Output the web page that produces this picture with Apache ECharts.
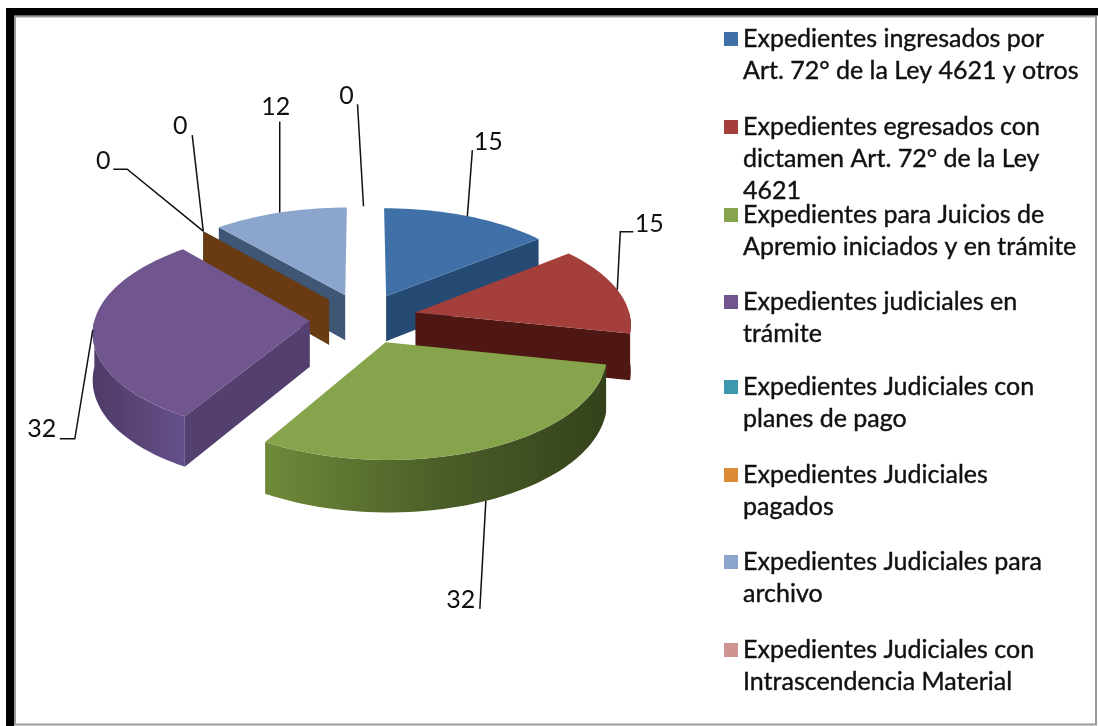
<!DOCTYPE html>
<html>
<head>
<meta charset="utf-8">
<style>
  html, body { margin: 0; padding: 0; background: #fff; }
  #chart { width: 1098px; height: 726px; }
</style>
<script src="https://cdn.jsdelivr.net/npm/echarts@6/dist/echarts.min.js"></script>
</head>
<body>
<div id="chart"></div>
<script>
// datos
const categories = [
  'Expedientes ingresados por\nArt. 72° de la Ley 4621 y otros',
  'Expedientes egresados con\ndictamen Art. 72° de la Ley\n4621',
  'Expedientes para Juicios de\nApremio iniciados y en trámite',
  'Expedientes judiciales en\ntrámite',
  'Expedientes Judiciales con\nplanes de pago',
  'Expedientes Judiciales\npagados',
  'Expedientes Judiciales para\narchivo',
  'Expedientes Judiciales con\nIntrascendencia Material'
]
const values = [15, 15, 32, 32, 0, 0, 12, 0]

// estilos por porcion
const topColors = ['#3f70a8', '#a43f3c', '#86a44b', '#70558f', '#3b98ae', '#dd8a35', '#8ba5cd', '#cf9391']
const wallColors = ['#254a73', '#4e1713', '#4a5c27', '#54406f', '#1f5a68', '#6a3b12', '#3f5674', '#7a4a48']
const outerStops = [
  ['#254a73', '#254a73', '#254a73'],
  ['#4e1713', '#4e1713', '#4e1713'],
  ['#6f8a3a', '#4c5f28', '#34421b'],
  ['#4e3b68', '#5a4577', '#63508a'],
  ['#1f5a68', '#1f5a68', '#1f5a68'],
  ['#6a3b12', '#6a3b12', '#6a3b12'],
  ['#3f5674', '#3f5674', '#3f5674'],
  ['#7a4a48', '#7a4a48', '#7a4a48']
]
// orden de pintado, del fondo al frente
const paintOrder = [7, 6, 4, 5, 0, 3, 1, 2]

// lineas guia: quiebres y rotulo, relativos al borde de cada porcion
const leaderBends = [
  [[5, -66]],
  [[3, -58], [16, -58]],
  [[-6, 108]],
  [[-18, 109], [-33, 109]],
  [[-76, -62], [-90, -62]],
  [[-11, -96]],
  [[0, -91]],
  [[-6, -102]]
]
const labelOffsets = [[21, -74], [32, -66], [-25, 99], [-51, 99], [-100, -70], [-23, -105], [-4, -106], [-17, -110]]
const legendCenters = [39, 127, 215, 302, 387, 475, 562, 650]

const CX = 363.5
const CY = 318.5
const RX = 215
const RY = 101
const PERSP = 0.1
const DEPTH = 46
const EXPLODE = 0.25
const LEGEND_LH = 32
const FONT = 'Lato, "Open Sans", sans-serif'

const total = values.reduce((a, b) => a + b, 0)
const rad = d => d * Math.PI / 180

let acc = 0
const slices = values.map(v => {
  const start = acc / total * 360
  acc += v
  const end = acc / total * 360
  return { start, end, mid: (start + end) / 2 }
})

// x derecha, y hacia el observador, z hacia abajo
const project = (x, y, z) => {
  const s = 1 / (1 - PERSP * y)
  return [CX + RX * x * s, CY + RY * y * s + DEPTH * z * s]
}
const apexOf = sl => [EXPLODE * Math.sin(rad(sl.mid)), -EXPLODE * Math.cos(rad(sl.mid))]
const rimPoint = (sl, deg, z) => {
  const a = apexOf(sl)
  return project(a[0] + Math.sin(rad(deg)), a[1] - Math.cos(rad(deg)), z)
}
const arc = (sl, from, to, z) => {
  const pts = []
  const n = Math.max(1, Math.ceil((to - from) / 2))
  for (let i = 0; i <= n; i++) pts.push(rimPoint(sl, from + (to - from) * i / n, z))
  return pts
}
const apexPoint = (sl, z) => {
  const a = apexOf(sl)
  return project(a[0], a[1], z)
}

const renderSlice = idx => (params, api) => {
  const sl = slices[idx]
  const children = []
  const radialWall = deg => children.push({
    type: 'polygon',
    shape: { points: [apexPoint(sl, 0), rimPoint(sl, deg, 0), rimPoint(sl, deg, 1), apexPoint(sl, 1)] },
    style: { fill: wallColors[idx] }
  })
  if (Math.sin(rad(sl.start)) < -1e-6) radialWall(sl.start)
  if (Math.sin(rad(sl.end)) > 1e-6) radialWall(sl.end)

  // pared exterior, solo la parte que mira al frente
  const from = Math.max(sl.start, 90)
  const to = Math.min(sl.end, 270)
  if (to > from) {
    children.push({
      type: 'polygon',
      shape: { points: arc(sl, from, to, 0).concat(arc(sl, from, to, 1).reverse()) },
      style: {
        fill: new echarts.graphic.LinearGradient(0, 0, 1, 0, [
          { offset: 0, color: outerStops[idx][0] },
          { offset: 0.5, color: outerStops[idx][1] },
          { offset: 1, color: outerStops[idx][2] }
        ])
      }
    })
  }
  if (sl.end > sl.start) {
    children.push({
      type: 'polygon',
      shape: { points: [apexPoint(sl, 0)].concat(arc(sl, sl.start, sl.end, 0)) },
      style: { fill: topColors[idx] }
    })
  }
  return { type: 'group', children }
}

const renderLeader = (params, api) => {
  const idx = params.dataIndex
  const sl = slices[idx]
  // el rotulo de la porcion del frente sale de la base de la pared
  const anchor = rimPoint(sl, sl.mid, Math.cos(rad(sl.mid)) < -0.5 ? 1 : 0)
  const pts = [anchor].concat(leaderBends[idx].map(b => [anchor[0] + b[0], anchor[1] + b[1]]))
  return {
    type: 'group',
    children: [
      { type: 'polyline', shape: { points: pts }, style: { stroke: '#111', lineWidth: 1.5, fill: 'none' } },
      {
        type: 'text',
        style: {
          text: String(api.value(0)),
          x: anchor[0] + labelOffsets[idx][0],
          y: anchor[1] + labelOffsets[idx][1],
          align: 'center',
          verticalAlign: 'middle',
          fontFamily: FONT,
          fontSize: 25,
          fill: '#111'
        }
      }
    ]
  }
}

const sliceSeries = paintOrder.map((idx, order) => ({
  name: categories[idx],
  type: 'custom',
  coordinateSystem: 'none',
  silent: true,
  animation: false,
  z: 2 + order,
  itemStyle: { color: topColors[idx] },
  data: [values[idx]],
  renderItem: renderSlice(idx)
}))

// la leyenda centra el icono en el bloque de texto: con lineas vacias
// delante, el icono queda a la altura de la primera linea
const legends = categories.map((name, i) => {
  const lines = name.split('\n').length
  return {
    data: [name],
    left: 724,
    top: legendCenters[i] - (2 * lines - 1) * LEGEND_LH / 2,
    orient: 'vertical',
    selectedMode: false,
    icon: 'rect',
    itemWidth: 14,
    itemHeight: 14,
    itemGap: 0,
    padding: 0,
    formatter: n => '\n'.repeat(lines - 1) + n,
    textStyle: {
      fontFamily: FONT,
      fontSize: 25,
      color: '#111',
      textBorderColor: '#111',
      textBorderWidth: 0.4,
      lineHeight: LEGEND_LH
    }
  }
})

const chart = echarts.init(document.getElementById('chart'))
chart.setOption({
  backgroundColor: '#fff',
  animation: false,
  legend: legends,
  // marco de la captura original
  graphic: [
    { type: 'rect', shape: { x: 15, y: 16.5, width: 1081, height: 708 }, style: { fill: '#fff', stroke: '#9a9a9a', lineWidth: 2 }, z: 0 },
    { type: 'rect', shape: { x: 6, y: 8, width: 1092, height: 7.5 }, style: { fill: '#000' }, z: 1 },
    { type: 'rect', shape: { x: 6, y: 8, width: 8, height: 718 }, style: { fill: '#000' }, z: 1 }
  ],
  series: sliceSeries.concat([{
    name: 'rotulos',
    type: 'custom',
    coordinateSystem: 'none',
    silent: true,
    animation: false,
    z: 20,
    data: values,
    renderItem: renderLeader
  }])
})
</script>
</body>
</html>
